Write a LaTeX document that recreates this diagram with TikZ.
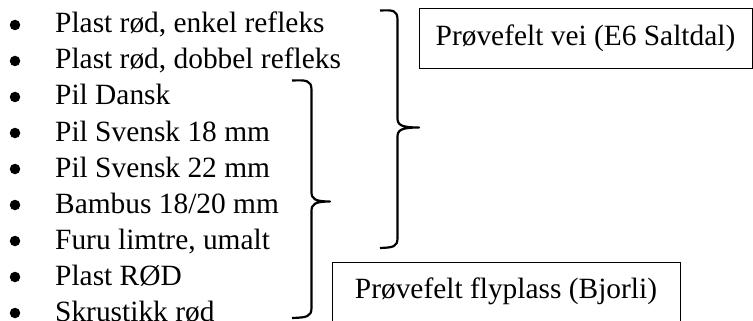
\documentclass[tikz,border=0pt]{standalone}
\usepackage{fontspec}
\setmainfont{Liberation Serif}
\begin{document}
\begin{tikzpicture}[x=1pt,y=-1pt,
  item/.style={anchor=base west,inner sep=0pt,font=\fontsize{29.4}{36}\selectfont},
  dot/.style={circle,fill=black,inner sep=0pt,minimum size=10.5pt},
  brace/.style={line width=2.2pt,line cap=butt,line join=round},
  label/.style={draw,line width=0.9pt,inner sep=0pt,font=\fontsize{29.4}{36}\selectfont}]
\useasboundingbox (0,0) rectangle (753,321);
\clip (0,0) rectangle (753,321);
\foreach \t [count=\i from 0] in {Plast rød{,} enkel refleks,Plast rød{,} dobbel refleks,Pil Dansk,Pil Svensk 18 mm,Pil Svensk 22 mm,Bambus 18/20 mm,Furu limtre{,} umalt,Plast RØD,Skrustikk rød}{
  \node[dot] (b\i) at (15,25+36*\i) {};
  \node[item] (t\i) at (55,33+36*\i) {\t};
}
% brace for Pil Dansk ... Skrustikk rød
\draw[brace] (292,80.5) .. controls (306,80) and (311.5,80) .. (311.5,90)
  -- (311.5,192) .. controls (311.5,199) and (315,201.5) .. (330,201.5)
  .. controls (315,201.5) and (311.5,204) .. (311.5,211)
  -- (311.5,308) .. controls (311.5,317) and (306,317.5) .. (292,318);
% brace for Plast rød ... Furu limtre
\draw[brace] (380,10.5) .. controls (393,10) and (397.5,10) .. (397.5,20)
  -- (397.5,118) .. controls (397.5,125) and (401,127.5) .. (419,127.5)
  .. controls (401,127.5) and (397.5,130) .. (397.5,137)
  -- (397.5,238) .. controls (397.5,247) and (393,247.5) .. (380,248);
\node[label,minimum width=333,minimum height=60] (vei) at (585.5,38) {Prøvefelt vei (E6 Saltdal)};
\node[label,minimum width=348,minimum height=80,anchor=north] (fly) at (506,262) {};
\node[inner sep=0pt,anchor=base,font=\fontsize{29.4}{36}\selectfont] (flytxt) at (506,298) {Prøvefelt flyplass (Bjorli)};
\end{tikzpicture}
\end{document}
